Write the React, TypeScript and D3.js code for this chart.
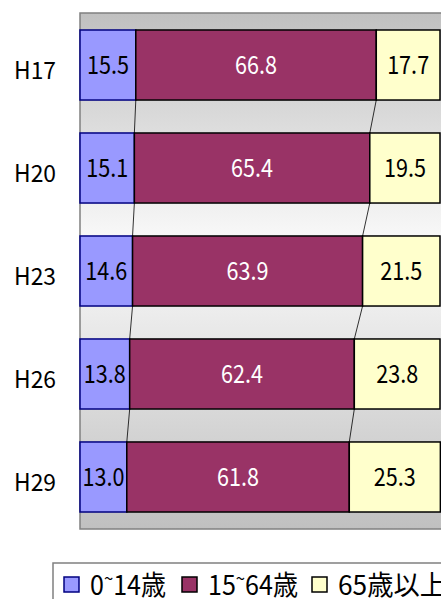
import * as d3 from "d3";

const years = ["H17", "H20", "H23", "H26", "H29"];
const young = [15.5, 15.1, 14.6, 13.8, 13.0];
const working = [66.8, 65.4, 63.9, 62.4, 61.8];
const elderly = [17.7, 19.5, 21.5, 23.8, 25.3];
const seriesNames = ["0~14歳", "15~64歳", "65歳以上"];

const fills = ["#9999ff", "#993366", "#ffffcc"];
const strokes = ["#000080", "#000000", "#000000"];
const labelColors = ["#000", "#fff", "#000"];

const W = 441;
const H = 599;
const left = 80;
const top = 13;
const bottom = 529;

export default function App() {
  const x = d3.scaleLinear().domain([0, 100]).range([left, 440]);
  const y = d3
    .scaleBand<string>()
    .domain(years)
    .range([top, bottom])
    .paddingInner(0.32)
    .paddingOuter(0.165);
  const bw = y.bandwidth();

  const rows = years.map((yr, i) => {
    const vals = [young[i], working[i], elderly[i]];
    let acc = 0;
    const segs = vals.map((v) => {
      const s = { x0: acc, x1: acc + v, v };
      acc += v;
      return s;
    });
    return { yr, segs };
  });

  // connector lines between neighbouring bars
  const links: { x1: number; y1: number; x2: number; y2: number }[] = [];
  for (let i = 0; i < rows.length - 1; i++) {
    for (let k = 0; k < 2; k++) {
      links.push({
        x1: x(rows[i].segs[k].x1),
        y1: y(rows[i].yr)! + bw,
        x2: x(rows[i + 1].segs[k].x1),
        y2: y(rows[i + 1].yr)!,
      });
    }
  }

  const legendX = [64, 182, 312];
  const legendLen = [76, 90, 108];

  return (
    <svg
      width={W}
      height={H}
      style={{ position: "absolute", left: 0, top: 0, background: "#fff" }}
      fontFamily="'Noto Sans CJK JP', 'Noto Sans', sans-serif"
    >
      <defs>
        <linearGradient id="bg" x1="0" y1="0" x2="0" y2="1">
          <stop offset="0" stopColor="#c0c0c0" />
          <stop offset="0.45" stopColor="#fafafa" />
          <stop offset="1" stopColor="#c0c0c0" />
        </linearGradient>
      </defs>
      <rect
        x={left}
        y={top}
        width={W - left + 10}
        height={bottom - top}
        fill="url(#bg)"
        stroke="#808080"
        strokeWidth={1.5}
      />
      {links.map((l, i) => (
        <line key={i} {...l} stroke="#000" strokeWidth={0.8} />
      ))}
      {rows.map((r) => (
        <g key={r.yr}>
          <text
            x={56}
            y={y(r.yr)! + bw / 2 + 14}
            textAnchor="end"
            fontSize={24}
            textLength={42}
            lengthAdjust="spacingAndGlyphs"
            fill="#000"
          >
            {r.yr}
          </text>
          {r.segs.map((s, k) => (
            <g key={k}>
              <rect
                x={x(s.x0)}
                y={y(r.yr)}
                width={x(s.x1) - x(s.x0)}
                height={bw}
                fill={fills[k]}
                stroke={strokes[k]}
                strokeWidth={1.5}
              />
              <text
                x={(x(s.x0) + x(s.x1)) / 2}
                y={y(r.yr)! + bw / 2 + 9}
                textAnchor="middle"
                fontSize={25}
                textLength={42}
                lengthAdjust="spacingAndGlyphs"
                fill={labelColors[k]}
              >
                {s.v.toFixed(1)}
              </text>
            </g>
          ))}
        </g>
      ))}
      <rect x={53} y={563} width={400} height={60} fill="#fff" stroke="#808080" strokeWidth={1.5} />
      {seriesNames.map((name, k) => {
        const parts = name.split("~");
        return (
          <g key={name}>
            <rect
              x={legendX[k]}
              y={577}
              width={15}
              height={15}
              fill={fills[k]}
              stroke={strokes[k]}
              strokeWidth={1.5}
            />
            <text
              x={legendX[k] + 26}
              y={595}
              fontSize={27}
              textLength={legendLen[k]}
              lengthAdjust="spacingAndGlyphs"
              fill="#000"
            >
              {parts.length > 1 ? (
                <>
                  {parts[0]}
                  <tspan dy={-10} fontSize={18}>~</tspan>
                  <tspan dy={10}>{parts[1]}</tspan>
                </>
              ) : (
                name
              )}
            </text>
          </g>
        );
      })}
    </svg>
  );
}
